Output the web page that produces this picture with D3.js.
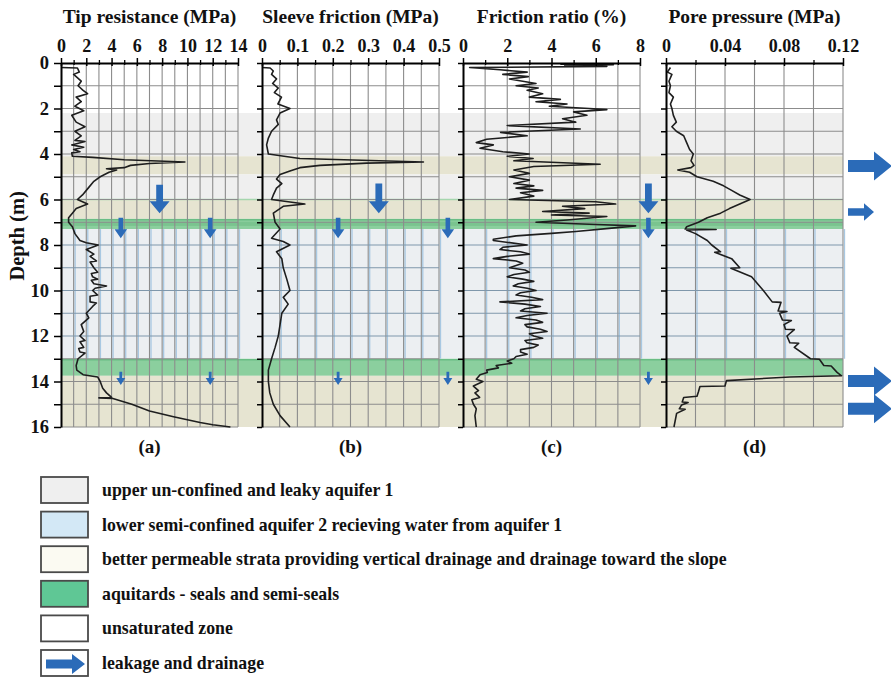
<!DOCTYPE html>
<html>
<head>
<meta charset="utf-8">
<script src="https://cdn.jsdelivr.net/npm/d3@7"></script>
<style>
  body { margin: 0; background: #fff; }
  svg { display: block; }
  svg text { font-family: "Liberation Serif", "DejaVu Serif", serif !important; font-weight: bold; }
</style>
</head>
<body>
<svg id="chart" width="891" height="682"></svg>
<script>
// ---- data: [depth m, value] ----
const tipResistance = [[0.2,0],[0.22,1.3],[0.4,1.45],[0.5,1.0],[0.6,1.2],[0.8,1.6],[1.0,1.35],[1.2,1.75],[1.35,2.1],[1.5,1.2],[1.7,1.6],[1.9,1.1],[2.1,1.8],[2.3,0.85],[2.6,1.2],[2.8,1.9],[3.0,1.1],[3.2,1.6],[3.4,1.1],[3.45,1.9],[3.6,0.85],[3.7,1.8],[3.8,1.0],[3.9,1.5],[3.95,0.85],[4.1,0.9],[4.15,2.5],[4.25,5.0],[4.35,9.8],[4.42,7.0],[4.5,5.5],[4.6,5.0],[4.65,3.6],[4.7,4.4],[4.8,3.8],[5.0,3.1],[5.2,2.6],[5.5,2.15],[5.8,1.7],[6.0,1.3],[6.2,2.1],[6.4,1.2],[6.6,0.9],[6.8,0.6],[7.0,0.6],[7.2,0.9],[7.5,1.1],[7.8,1.5],[7.9,2.0],[8.0,2.95],[8.2,2.0],[8.4,2.6],[8.5,2.3],[8.7,2.8],[8.75,2.3],[9.0,2.6],[9.2,2.9],[9.25,2.4],[9.4,2.5],[9.5,2.9],[9.55,2.4],[9.7,2.6],[9.8,3.6],[9.9,2.7],[10.0,2.5],[10.2,2.9],[10.25,2.3],[10.5,2.3],[10.55,2.8],[10.7,2.5],[11.0,2.0],[11.2,2.2],[11.5,1.6],[11.8,1.8],[12.0,1.5],[12.2,1.9],[12.25,1.5],[12.5,1.8],[12.55,1.4],[12.7,1.5],[12.75,1.9],[13.0,1.35],[13.3,1.2],[13.5,1.25],[13.7,1.75],[13.8,2.9],[14.0,3.1],[14.3,3.3],[14.5,3.6],[14.7,4.0],[14.72,3.0],[14.75,4.1],[15.0,5.6],[15.3,7.0],[15.55,8.9],[15.8,11.0],[15.9,12.0],[16.0,13.4]];
const sleeveFriction = [[0.2,0],[0.22,0.023],[0.35,0.032],[0.5,0.027],[0.7,0.041],[0.9,0.03],[1.1,0.046],[1.3,0.035],[1.5,0.055],[1.8,0.045],[2.0,0.079],[2.2,0.051],[2.5,0.041],[2.7,0.046],[3.0,0.027],[3.3,0.018],[3.6,0.013],[4.0,0.018],[4.2,0.107],[4.35,0.456],[4.4,0.296],[4.5,0.164],[4.6,0.107],[4.75,0.079],[4.9,0.051],[5.1,0.041],[5.3,0.056],[5.5,0.041],[5.8,0.032],[6.0,0.027],[6.2,0.121],[6.3,0.06],[6.6,0.032],[7.0,0.037],[7.3,0.051],[7.7,0.027],[7.85,0.06],[8.0,0.079],[8.3,0.041],[8.6,0.056],[9.0,0.06],[9.5,0.07],[10.0,0.079],[10.3,0.06],[10.6,0.074],[11.0,0.056],[11.5,0.051],[12.0,0.046],[12.5,0.037],[13.0,0.027],[13.5,0.018],[14.0,0.018],[14.5,0.022],[15.0,0.032],[15.5,0.051],[16.0,0.079]];
const frictionRatio = [[0.05,4.4],[0.08,6.8],[0.12,4.6],[0.15,6.5],[0.2,0.3],[0.3,1.67],[0.4,2.9],[0.5,1.8],[0.6,2.95],[0.7,2.1],[0.9,3.3],[1.0,2.4],[1.1,3.4],[1.2,2.9],[1.35,3.6],[1.5,3.0],[1.6,4.4],[1.7,3.3],[1.8,4.7],[1.9,3.9],[2.0,5.7],[2.05,6.5],[2.15,5.0],[2.3,5.6],[2.45,4.5],[2.6,5.1],[2.75,2.0],[2.9,5.3],[3.05,1.7],[3.2,2.9],[3.35,1.07],[3.5,0.6],[3.6,1.37],[3.75,0.77],[3.9,1.8],[4.0,3.0],[4.1,2.0],[4.2,3.17],[4.3,2.3],[4.45,6.2],[4.55,3.2],[4.7,2.3],[4.85,3.0],[5.0,2.1],[5.15,3.0],[5.3,2.3],[5.4,3.2],[5.5,2.4],[5.6,3.6],[5.7,2.6],[5.85,3.2],[6.0,2.1],[6.1,6.0],[6.2,6.9],[6.3,4.5],[6.4,5.5],[6.53,3.6],[6.6,5.7],[6.68,4.0],[6.75,6.5],[6.9,4.7],[7.0,3.3],[7.1,6.0],[7.16,7.8],[7.27,6.6],[7.41,5.1],[7.49,4.0],[7.6,2.4],[7.75,1.37],[7.8,1.37],[8.0,2.9],[8.1,1.8],[8.2,1.67],[8.3,2.6],[8.4,3.0],[8.5,2.0],[8.6,1.37],[8.7,2.4],[8.8,2.7],[9.0,2.1],[9.1,2.8],[9.2,3.0],[9.3,2.3],[9.4,2.0],[9.5,2.7],[9.6,3.2],[9.7,2.5],[9.8,2.27],[9.9,2.9],[10.0,3.3],[10.1,2.6],[10.2,2.4],[10.3,3.1],[10.4,3.6],[10.5,1.67],[10.6,2.8],[10.7,3.5],[10.8,2.8],[10.9,2.6],[11.0,3.8],[11.1,2.9],[11.2,2.4],[11.3,3.3],[11.4,3.6],[11.5,2.8],[11.6,2.9],[11.7,3.5],[11.8,3.8],[11.9,3.0],[12.0,3.2],[12.1,3.6],[12.2,2.8],[12.3,2.9],[12.4,3.4],[12.5,3.2],[12.6,2.6],[12.7,2.6],[12.8,2.9],[12.9,2.4],[13.0,2.3],[13.1,2.0],[13.2,2.2],[13.3,1.5],[13.4,1.6],[13.5,1.07],[13.6,1.1],[13.7,0.77],[13.9,0.6],[14.0,0.9],[14.2,0.47],[14.4,0.7],[14.5,0.54],[14.7,0.75],[14.8,0.4],[15.0,0.47],[15.2,0.6],[15.5,0.54],[16.0,0.6]];
const porePressure = [[0.2,0.003],[0.4,0.001],[0.5,0.004],[0.8,0.002],[1.0,0.003],[1.3,0.002],[1.5,0.005],[1.8,0.003],[2.0,0.004],[2.3,0.005],[2.6,0.007],[2.8,0.004],[3.0,0.007],[3.2,0.012],[3.5,0.014],[3.8,0.016],[4.0,0.0185],[4.3,0.017],[4.5,0.019],[4.6,0.017],[4.7,0.008],[4.8,0.016],[5.0,0.021],[5.2,0.032],[5.4,0.039],[5.6,0.0445],[5.8,0.05],[6.0,0.057],[6.2,0.05],[6.4,0.043],[6.6,0.037],[6.8,0.028],[7.0,0.022],[7.2,0.014],[7.3,0.013],[7.32,0.034],[7.34,0.014],[7.5,0.02],[7.8,0.028],[8.0,0.031],[8.3,0.037],[8.32,0.033],[8.6,0.0445],[9.0,0.05],[9.02,0.044],[9.4,0.058],[10.0,0.066],[10.5,0.072],[10.52,0.078],[10.9,0.076],[10.92,0.082],[11.0,0.077],[11.3,0.079],[11.32,0.085],[11.5,0.08],[11.7,0.081],[11.72,0.087],[12.0,0.082],[12.3,0.084],[12.32,0.09],[12.5,0.087],[13.0,0.098],[13.02,0.104],[13.3,0.107],[13.32,0.112],[13.6,0.116],[13.75,0.119],[13.8,0.084],[13.96,0.041],[14.2,0.04],[14.22,0.023],[14.45,0.022],[14.65,0.021],[14.7,0.012],[14.9,0.011],[14.92,0.015],[15.03,0.0106],[15.2,0.009],[15.22,0.013],[15.4,0.0072],[16.0,0.0054]];

const panelTitles = ["Tip resistance (MPa)", "Sleeve friction (MPa)", "Friction ratio (%)", "Pore pressure (MPa)"];
const panelLetters = ["(a)", "(b)", "(c)", "(d)"];
const panelMax = [14, 0.5, 8, 0.12];
const panelTicks = [[0,2,4,6,8,10,12,14], [0,0.1,0.2,0.3,0.4,0.5], [0,2,4,6,8], [0,0.04,0.08,0.12]];
const panelTickText = [["0","2","4","6","8","10","12","14"], ["0","0.1","0.2","0.3","0.4","0.5"], ["0","2","4","6","8"], ["0","0.04","0.08","0.12"]];
const panelMinor = [[1,3,5,7,9,11,13], [0.05,0.15,0.25,0.35,0.45], [1,3,5,7], [0.02,0.06,0.1]];
const panelGridStep = [1, 0.05, 1, 0.02];
const profiles = [tipResistance, sleeveFriction, frictionRatio, porePressure];

// layers by depth
const bandTop    = [0,   2.2, 4.1, 4.9, 6.0, 6.85, 7.3, 13.0, 13.75];
const bandBottom = [2.2, 4.1, 4.9, 6.0, 6.85, 7.3, 13.0, 13.75, 16];
const bandKind   = ["unsat", "upper", "perm", "upper", "perm", "seal", "lower", "seal", "perm"];

// arrows: [panel, value, top depth, bottom depth, size]
const downArrows = [
  [0, 7.8, 5.35, 6.6, "L"], [0, 4.73, 6.8, 7.7, "M"], [0, 11.8, 6.8, 7.7, "M"],
  [1, 0.33, 5.3, 6.6, "L"], [1, 0.215, 6.8, 7.7, "M"], [1, 0.525, 6.8, 7.7, "M"],
  [2, 8.38, 5.3, 6.6, "L"], [2, 8.38, 6.8, 7.7, "M"],
  [0, 4.73, 13.57, 14.15, "S"], [0, 11.8, 13.57, 14.15, "S"],
  [1, 0.215, 13.57, 14.15, "S"], [1, 0.525, 13.57, 14.15, "S"], [2, 8.38, 13.57, 14.15, "S"]
];
const rightArrowDepths = [4.53, 6.55, 13.98, 15.2];
const rightArrowSizes = ["L", "M", "L", "L"];

const legendLabels = [
  "upper un-confined and leaky aquifer 1",
  "lower semi-confined aquifer 2 recieving water from aquifer 1",
  "better permeable strata providing vertical drainage and drainage toward the slope",
  "aquitards - seals and semi-seals",
  "unsaturated zone",
  "leakage and drainage"
];
const legendKinds = ["upper", "lowerLegend", "permLegend", "sealLegend", "unsat", "arrow"];

// ---- styling ----
const colors = {
  unsat: "#ffffff", upper: "#efefef", perm: "#e6e4d1", seal: "#8bcf9e", lower: "#eceff2",
  lowerLegend: "#d3e8f6", permLegend: "#fbfaf2", sealLegend: "#5fc795", arrow: "#ffffff"
};
const arrowColor = "#2b6bb8";
const panelLeft = [61, 262, 463, 666];
const panelWidth = 177;

const svg = d3.select("#chart");
const y = d3.scaleLinear().domain([0, 16]).range([63, 427]);
const xScales = panelMax.map((m, i) => d3.scaleLinear().domain([0, m]).range([panelLeft[i], panelLeft[i] + panelWidth]));
const xStart = panelLeft[0], xEnd = panelLeft[3] + panelWidth;

// background layers across all panels
const bands = svg.append("g");
bandTop.forEach((t, i) => {
  bands.append("rect")
    .attr("x", xStart).attr("width", xEnd - xStart)
    .attr("y", y(t)).attr("height", y(bandBottom[i]) - y(t))
    .attr("fill", colors[bandKind[i]]);
  if (bandKind[i] === "seal") {
    bands.append("line").attr("x1", xStart).attr("x2", xEnd)
      .attr("y1", y(t) + 1).attr("y2", y(t) + 1)
      .attr("stroke", "#63b97f").attr("stroke-width", 1.5).attr("opacity", 0.8);
  }
});
// thin dark stripe inside the upper seal, green edge on top of the lower beige
bands.append("rect").attr("x", xStart).attr("width", xEnd - xStart)
  .attr("y", y(6.98)).attr("height", y(7.16) - y(6.98)).attr("fill", "#7ac48f");
bands.append("line").attr("x1", xStart).attr("x2", xEnd).attr("y1", y(6.0)).attr("y2", y(6.0))
  .attr("stroke", "#a6d6ae").attr("stroke-width", 1.5);

const line = d3.line().x(d => d.x).y(d => d.y);

xScales.forEach((x, i) => {
  const g = svg.append("g");
  const max = panelMax[i];
  const step = panelGridStep[i];
  const vals = d3.range(1, Math.round(max / step) + 1).map(k => k * step);

  // grid
  const grid = g.append("g");
  grid.selectAll(".vb").data(vals).join("line")
    .attr("x1", d => x(d) + 1.5).attr("x2", d => x(d) + 1.5)
    .attr("y1", y(7.3)).attr("y2", y(13))
    .attr("stroke", "#a8c8e2").attr("stroke-width", 1.3);
  grid.selectAll(".v").data(vals).join("line")
    .attr("x1", d => x(d)).attr("x2", d => x(d))
    .attr("y1", y(0)).attr("y2", y(16))
    .attr("stroke", "#8c8c8c").attr("stroke-width", 1.1);
  grid.selectAll(".h").data(d3.range(1, 17)).join("line")
    .attr("x1", x(0)).attr("x2", x(max))
    .attr("y1", d => y(d)).attr("y2", d => y(d))
    .attr("stroke", d => (d > 7.3 && d < 13) ? "#7f97ab" : "#8c8c8c").attr("stroke-width", 1.1);

  // profile
  g.append("path")
    .attr("d", line(profiles[i].map(p => ({ x: x(p[1]), y: y(p[0]) }))))
    .attr("fill", "none").attr("stroke", "#1e1e1e").attr("stroke-width", 1.6)
    .attr("stroke-linejoin", "round");

  // top axis
  const top = g.append("g").attr("transform", `translate(0,${y(0)})`)
    .call(d3.axisTop(x).tickValues(panelTicks[i]).tickFormat((d, k) => panelTickText[i][k])
      .tickSize(5).tickSizeOuter(0).tickPadding(6))
    .attr("font-family", null).attr("font-size", 18);
  top.selectAll(".tick line").attr("y1", 3).attr("stroke-width", 1.5);
  top.select(".domain").attr("stroke-width", 2);
  top.selectAll("text").attr("fill", "#111");
  const minor = g.append("g").attr("transform", `translate(0,${y(0)})`)
    .call(d3.axisTop(x).tickValues(panelMinor[i]).tickFormat("").tickSize(3).tickSizeOuter(0));
  minor.select(".domain").remove();
  minor.selectAll(".tick line").attr("y1", 2).attr("stroke-width", 1.3);

  // left axis
  const left = g.append("g").attr("transform", `translate(${x(0)},0)`)
    .call(d3.axisLeft(y).tickValues(d3.range(0, 17))
      .tickFormat(d => (i === 0 && d % 2 === 0) ? d : "")
      .tickSize(i === 0 ? 7 : 5).tickSizeOuter(0).tickPadding(5))
    .attr("font-family", null).attr("font-size", 18.5);
  left.select(".domain").attr("stroke-width", 2);
  left.selectAll(".tick line").attr("stroke-width", 1.5);
  left.selectAll("text").attr("fill", "#111");

  // title and letter
  g.append("text").attr("x", x(max / 2)).attr("y", 23).attr("text-anchor", "middle")
    .attr("font-size", 19.5).attr("fill", "#111").text(panelTitles[i]);
  g.append("text").attr("x", x(max / 2)).attr("y", 453).attr("text-anchor", "middle")
    .attr("font-size", 19).attr("fill", "#111").text(panelLetters[i]);
});

svg.append("text")
  .attr("transform", `translate(24,${y(7.6)}) rotate(-90)`)
  .attr("text-anchor", "middle").attr("font-size", 20.5).attr("fill", "#111")
  .text("Depth (m)");

// arrows
const downSize = { L: [3.4, 10, 12], M: [2.3, 6.3, 9], S: [1.4, 4.5, 7] };
function downArrow(cx, y0, y1, s) {
  const [sh, hh, hl] = downSize[s];
  return [[cx - sh, y0], [cx + sh, y0], [cx + sh, y1 - hl], [cx + hh, y1 - hl], [cx, y1],
          [cx - hh, y1 - hl], [cx - sh, y1 - hl]];
}
const rightSize = { L: [6, 14.5, 44, 18], M: [3.7, 8.7, 26, 10] };
function rightArrow(x0, cy, s) {
  const [sh, hh, len, hl] = rightSize[s];
  const x1 = x0 + len;
  return [[x0, cy - sh], [x1 - hl, cy - sh], [x1 - hl, cy - hh], [x1, cy], [x1 - hl, cy + hh],
          [x1 - hl, cy + sh], [x0, cy + sh]];
}
const arrows = svg.append("g").attr("fill", arrowColor);
downArrows.forEach(a => {
  arrows.append("polygon")
    .attr("points", downArrow(xScales[a[0]](a[1]), y(a[2]), y(a[3]), a[4]).join(" "));
});
rightArrowDepths.forEach((d, i) => {
  arrows.append("polygon")
    .attr("points", rightArrow(xScales[3](0.12) + 5, y(d), rightArrowSizes[i]).join(" "));
});

// legend
const legend = svg.append("g");
legendLabels.forEach((lab, i) => {
  const top = 477 + i * 34.6;
  legend.append("rect").attr("x", 41).attr("y", top).attr("width", 47).attr("height", 26)
    .attr("fill", colors[legendKinds[i]]).attr("stroke", "#4a4a4a").attr("stroke-width", 1.8);
  if (legendKinds[i] === "arrow") {
    const cy = top + 14;
    legend.append("polygon").attr("fill", arrowColor)
      .attr("points", [[46, cy - 4.5], [72, cy - 4.5], [72, cy - 10], [85, cy], [72, cy + 10], [72, cy + 4.5], [46, cy + 4.5]].join(" "));
  }
  legend.append("text").attr("x", 102).attr("y", top + 19)
    .attr("font-size", 17.8).attr("fill", "#111").text(lab);
});
</script>
</body>
</html>
